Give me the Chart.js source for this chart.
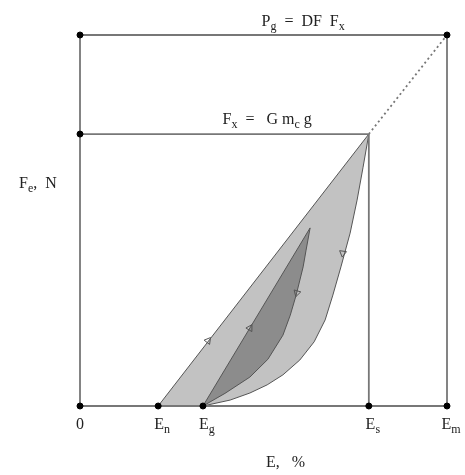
<!DOCTYPE html>
<html>
<head>
<meta charset="utf-8">
<script src="https://cdn.jsdelivr.net/npm/chart.js@4"></script>
<style>html,body{margin:0;padding:0;background:#fff}</style>
</head>
<body>
<div style="width:465px;height:475px"><canvas id="grafica1"></canvas></div>
<script>
// strain marks on the E axis (E_m = 100)
const strainTicks = [0, 21.3, 33.5, 78.7, 100];
const strainNames = [['0', ''], ['E', 'n'], ['E', 'g'], ['E', 's'], ['E', 'm']];
// force levels (P_g = 100)
const forceFx = 73.3;
const forcePg = 100;

// outer loop, unloading curve from the peak back to E_g
const outerX = [78.7, 77.1, 75.5, 73.6, 71.1, 68.9, 66.8, 63.8, 59.9, 55.3, 51.0, 46.3, 40.9, 33.5];
const outerY = [73.3, 64.2, 55.5, 46.6, 37.5, 29.9, 23.2, 17.3, 12.4, 8.4, 5.7, 3.5, 1.6, 0];
// inner loop, peak and unloading curve back to E_g
const innerX = [62.7, 61.6, 60.8, 58.9, 57.3, 55.3, 51.2, 46.3, 39.5, 33.5];
const innerY = [48.0, 42.0, 37.5, 29.9, 24.5, 19.1, 12.6, 7.8, 3.4, 0];

// direction arrows
const arrowX = [34.9, 46.3, 71.6, 59.1];
const arrowY = [17.6, 21.0, 41.2, 30.5];
const arrowRot = [38, 31, 188, 196];

const En = strainTicks[1], Eg = strainTicks[2], Es = strainTicks[3], Em = strainTicks[4];
const pts = (xs, ys) => xs.map((x, i) => ({x: x, y: ys[i]}));

const outerShape = [{x: En, y: 0}].concat(pts(outerX, outerY), [{x: En, y: 0}]);
const innerShape = [{x: Eg, y: 0}].concat(pts(innerX, innerY));

const frameColor = '#777';
const frame = (data, dash) => ({
    type: 'line', data: data, borderColor: frameColor, borderWidth: 1.8,
    borderDash: dash || [], pointRadius: 0, fill: false, clip: false, order: 1
});

const labelPlugin = {
    id: 'labels',
    afterDraw(chart) {
        const ctx = chart.ctx;
        const xs = chart.scales.x, ys = chart.scales.y;
        const big = '16px "Liberation Serif"', small = '12px "Liberation Serif"';
        function rich(parts, cx, cy) {
            ctx.save();
            ctx.fillStyle = '#222';
            ctx.textBaseline = 'middle';
            ctx.textAlign = 'left';
            let w = 0;
            parts.forEach(p => { ctx.font = p[1] ? small : big; w += ctx.measureText(p[0]).width; });
            let x = cx - w / 2;
            parts.forEach(p => {
                ctx.font = p[1] ? small : big;
                ctx.fillText(p[0], x, cy + (p[1] ? 5 : 0));
                x += ctx.measureText(p[0]).width;
            });
            ctx.restore();
        }
        const base = ys.getPixelForValue(0);
        strainTicks.forEach((v, i) => {
            const n = strainNames[i];
            const parts = [[n[0], false]];
            if (n[1]) parts.push([n[1], true]);
            rich(parts, xs.getPixelForValue(v) + (n[1] ? 4 : 0), base + 19);
        });
        rich([['E,   %', false]], xs.getPixelForValue(56), base + 57);
        rich([['F', false], ['e', true], [',  N', false]], 38, ys.getPixelForValue(60));
        rich([['P', false], ['g', true], ['  =  DF  F', false], ['x', true]],
            xs.getPixelForValue(60.8), ys.getPixelForValue(forcePg) - 13);
        rich([['F', false], ['x', true], ['  =   G m', false], ['c', true], [' g', false]],
            xs.getPixelForValue(51), ys.getPixelForValue(forceFx) - 14);
    }
};

new Chart(document.getElementById('grafica1').getContext('2d'), {
    type: 'line',
    data: {
        datasets: [
            {
                data: outerShape, fill: 'shape', backgroundColor: '#c2c2c2',
                borderColor: '#555', borderWidth: 1, pointRadius: 0, tension: 0, order: 3
            },
            {
                data: innerShape, fill: 'shape', backgroundColor: '#8c8c8c',
                borderColor: '#555', borderWidth: 1, pointRadius: 0, tension: 0, order: 2
            },
            frame([{x: 0, y: forcePg}, {x: Em, y: forcePg}]),
            frame([{x: 0, y: 0}, {x: 0, y: forcePg}]),
            frame([{x: Em, y: 0}, {x: Em, y: forcePg}]),
            frame([{x: 0, y: 0}, {x: Em, y: 0}]),
            frame([{x: 0, y: forceFx}, {x: Es, y: forceFx}]),
            frame([{x: Es, y: 0}, {x: Es, y: forceFx}]),
            frame([{x: Es, y: forceFx}, {x: Em, y: forcePg}], [2, 3]),
            {
                type: 'scatter',
                data: pts(arrowX, arrowY),
                pointStyle: 'triangle', pointRadius: 4, pointRotation: arrowRot,
                pointBackgroundColor: 'rgba(0,0,0,0)', pointBorderColor: '#555', pointBorderWidth: 1,
                order: 0
            },
            {
                type: 'scatter',
                data: strainTicks.map(v => ({x: v, y: 0})).concat([{x: 0, y: forceFx}, {x: 0, y: forcePg}, {x: Em, y: forcePg}]),
                pointRadius: 3, pointBackgroundColor: '#000', pointBorderColor: '#000', clip: false,
                order: 0
            }
        ]
    },
    options: {
        responsive: true,
        maintainAspectRatio: false,
        animation: false,
        layout: {padding: {left: 80, right: 18, top: 35, bottom: 69}},
        plugins: {legend: {display: false}, tooltip: {enabled: false}},
        scales: {
            x: {type: 'linear', min: 0, max: Em, display: false},
            y: {type: 'linear', min: 0, max: forcePg, display: false}
        }
    },
    plugins: [labelPlugin]
});
</script>
</body>
</html>
